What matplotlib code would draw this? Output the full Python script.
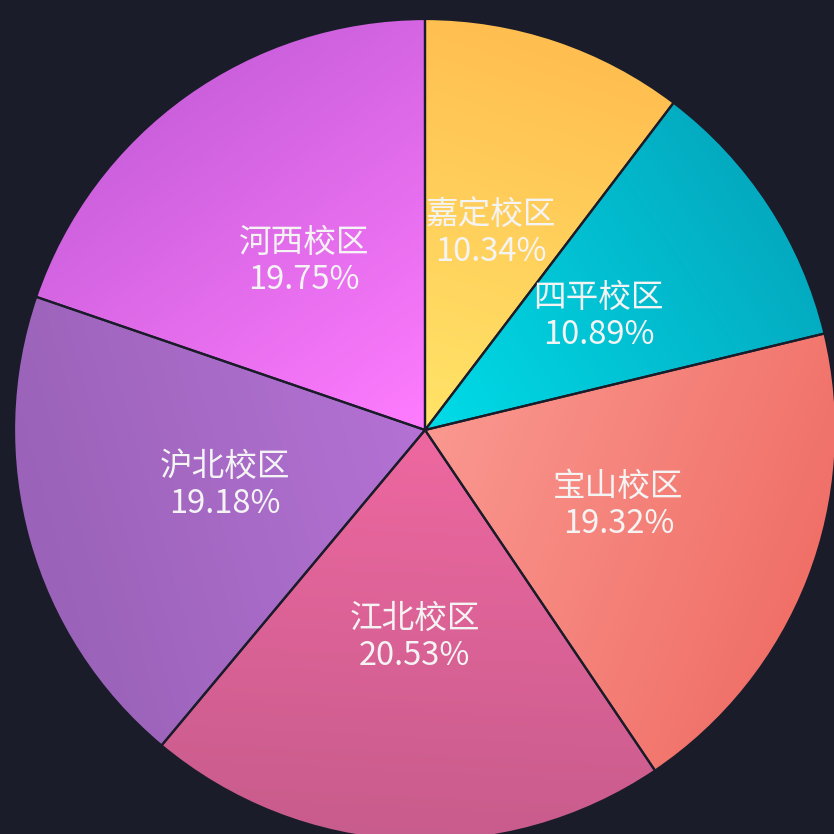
import numpy as np
import matplotlib.pyplot as plt
from matplotlib.colors import LinearSegmentedColormap

plt.rcParams['font.family'] = ['Noto Sans CJK SC', 'DejaVu Sans']

names = ["嘉定校区", "四平校区", "宝山校区", "江北校区", "沪北校区", "河西校区"]
shares = [10.34, 10.89, 19.32, 20.53, 19.18, 19.75]
inner_colors = ["#ffe468", "#00dce8", "#fa9890", "#ee68a0", "#b472d4", "#ff7cff"]
outer_colors = ["#ffbe50", "#04aac0", "#f07068", "#c85c8c", "#9a62b8", "#cc60dc"]

bg = "#1b1c2a"
cx, cy, r = 425, 404, 411

fig = plt.figure(figsize=(8.34, 8.34), dpi=100)
fig.patch.set_facecolor(bg)
ax = fig.add_axes([0, 0, 1, 1])
ax.set_facecolor(bg)

wedges, _ = ax.pie(shares, center=(cx, cy), radius=r, startangle=90, counterclock=False,
                   colors=inner_colors, wedgeprops=dict(edgecolor=bg, linewidth=1.6))

xs = np.linspace(cx - r, cx + r, 400)
ys = np.linspace(cy - r, cy + r, 400)
X, Y = np.meshgrid(xs, ys)

for i, w in enumerate(wedges):
    mid = np.deg2rad((w.theta1 + w.theta2) / 2)
    proj = ((X - cx) * np.cos(mid) + (Y - cy) * np.sin(mid)) / r
    proj = np.clip(proj, 0, 1)
    cmap = LinearSegmentedColormap.from_list("g%d" % i, [inner_colors[i], outer_colors[i]])
    im = ax.imshow(proj, cmap=cmap, vmin=0, vmax=1, origin="lower",
                   extent=(cx - r, cx + r, cy - r, cy + r), zorder=1.5, interpolation="bilinear")
    im.set_clip_path(w)
    w.set_facecolor("none")
    w.set_zorder(2)

    # labels sit halfway out along the slice bisector
    tx = cx + 0.505 * r * np.cos(mid)
    ty = cy + 0.505 * r * np.sin(mid)
    ax.text(tx, ty, "%s\n%.2f%%" % (names[i], shares[i]), ha="center", va="center",
            color="#f4f4f4", fontsize=23.5, linespacing=1.2, zorder=3)

ax.set_xlim(0, 834)
ax.set_ylim(0, 834)
ax.set_aspect("equal")
ax.axis("off")

fig.savefig("out.png", dpi=100, facecolor=bg)
